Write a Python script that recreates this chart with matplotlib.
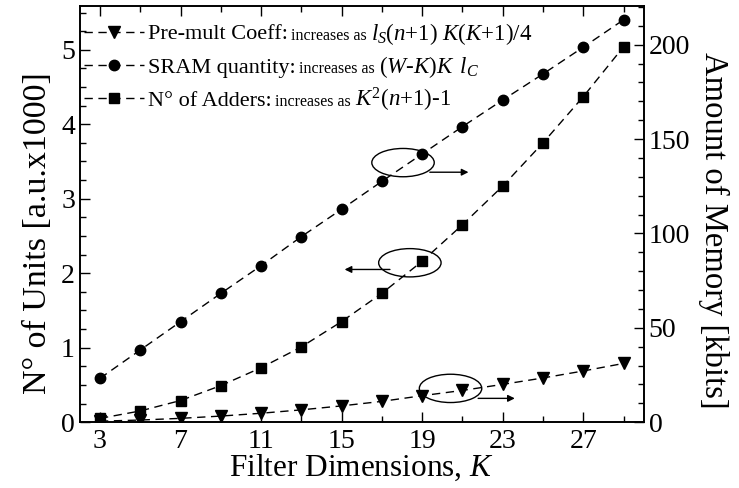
import matplotlib
matplotlib.use('Agg')
import matplotlib.pyplot as plt
from matplotlib.patches import Ellipse
from matplotlib.ticker import MultipleLocator, FixedLocator

plt.rcParams['font.family'] = ['Liberation Serif', 'DejaVu Serif']
plt.rcParams['mathtext.fontset'] = 'custom'
plt.rcParams['mathtext.rm'] = 'Liberation Serif'
plt.rcParams['mathtext.it'] = 'Liberation Serif:italic'

# filter dimension K
K = [3, 5, 7, 9, 11, 13, 15, 17, 19, 21, 23, 25, 27, 29]
# adders, thousands of units (left axis)
adders = [0.05, 0.15, 0.29, 0.49, 0.73, 1.01, 1.35, 1.73, 2.16, 2.65, 3.17, 3.75, 4.37, 5.04]
# sram quantity, kbits (right axis)
sram = [23.2, 38.2, 53.2, 68.2, 82.9, 98.3, 112.8, 127.6, 142.1, 156.6, 170.7, 184.5, 198.7, 213.2]
# pre-mult coefficients, kbits (right axis)
premult = [0.5, 1.1, 2.0, 3.2, 4.7, 6.5, 8.6, 11.0, 14.0, 16.8, 20.0, 23.4, 27.1, 31.1]

fig = plt.figure(figsize=(7.39, 4.88), dpi=100)
ax = fig.add_axes([0.108, 0.135, 0.763, 0.853])
ax2 = ax.twinx()

dash = (6, 4)
l3, = ax.plot(K, adders, color='black', lw=1, dashes=dash, marker='s', ms=6.5,
              label='N° of Adders:')
l2, = ax2.plot(K, sram, color='black', lw=1, dashes=dash, marker='o', ms=7.5,
               label='SRAM quantity:')
l1, = ax2.plot(K, premult, color='black', lw=1, dashes=dash, marker='v', ms=8.5,
               label='Pre-mult Coeff:')

ax.set_xlim(2, 30)
ax.set_ylim(0, 5.59)
ax2.set_ylim(0, 220.6)

ax.xaxis.set_major_locator(FixedLocator([3, 7, 11, 15, 19, 23, 27]))
ax.xaxis.set_minor_locator(FixedLocator([5, 9, 13, 17, 21, 25, 29]))
ax.yaxis.set_major_locator(MultipleLocator(1))
ax.yaxis.set_minor_locator(MultipleLocator(0.25))
ax2.yaxis.set_major_locator(MultipleLocator(50))
ax2.yaxis.set_minor_locator(MultipleLocator(10))

ax.tick_params(which='both', direction='in', top=True, labelsize=20, width=1)
ax.tick_params(which='major', length=7)
ax.tick_params(which='minor', length=4)
ax2.tick_params(which='both', direction='in', labelsize=20, width=1)
ax2.tick_params(which='major', length=7)
ax2.tick_params(which='minor', length=4)
ax.tick_params(axis='x', pad=5)
for a in (ax, ax2):
    for s in a.spines.values():
        s.set_linewidth(1.2)

ax.set_xlabel('Filter Dimensions, $\\it{K}$', fontsize=22.5, labelpad=-1)
ax.set_ylabel('N° of Units [a.u.x1000]', fontsize=24.5, labelpad=6)
ax2.set_ylabel('Amount of Memory [kbits]', fontsize=23.5, rotation=270, labelpad=28)
# both axis titles sit a little below the middle of the axes
ax.yaxis.label.set_y(0.455)
ax2.yaxis.label.set_y(0.46)

# ellipses with arrows showing which axis each curve uses
ell_w, ell_h = 3.1, 0.38
for cx, cy in [(18.05, 3.485), (18.39, 2.14), (20.41, 0.453)]:
    ax.add_patch(Ellipse((cx, cy), ell_w, ell_h, fill=False, lw=1, color='black', zorder=5))
arrows = [((19.38, 3.356), (21.3, 3.356)),
          ((17.4, 2.05), (15.15, 2.05)),
          ((21.78, 0.319), (23.6, 0.319))]
for (x0, y0), (x1, y1) in arrows:
    ax.annotate('', xy=(x1, y1), xytext=(x0, y0),
                arrowprops=dict(arrowstyle='-|>', color='black', lw=1,
                                mutation_scale=10, shrinkA=0, shrinkB=0))

main_fs, small_fs, form_fs = 16, 11.5, 16.5
leg = ax2.legend(handles=[l1, l2, l3], loc='upper left', frameon=False, fontsize=main_fs,
                 handlelength=2.7, handletextpad=0.15, labelspacing=0.57,
                 borderaxespad=0.0, borderpad=0.4, bbox_to_anchor=(-0.008, 0.978))

fig.canvas.draw()

# the rest of each legend entry, on the same baseline as the label
formulas = [r'$l_S(n$+1) $K(K$+1)/4',
            r'($W$-$K$)$K\ \,l_C$',
            r'$K^2(n$+1)-1']
for txt, form in zip(leg.get_texts(), formulas):
    small = ax2.annotate(' increases as ', xy=(1, 0), xycoords=txt,
                         xytext=(0, 0.217 * main_fs), textcoords='offset points',
                         fontsize=small_fs, va='baseline', ha='left')
    ax2.annotate(form, xy=(1, 0), xycoords=small,
                 xytext=(0, 0.217 * small_fs), textcoords='offset points',
                 fontsize=form_fs, va='baseline', ha='left')

fig.savefig('out.png', dpi=100)
